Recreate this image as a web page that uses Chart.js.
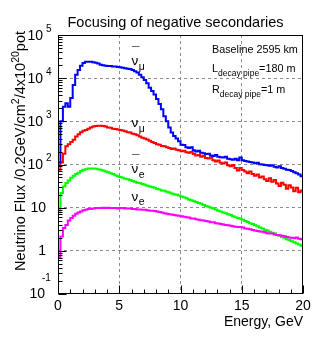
<!DOCTYPE html>
<html><head><meta charset="utf-8">
<script src="https://cdn.jsdelivr.net/npm/chart.js@4"></script>
<style>html,body{margin:0;padding:0;background:#fff}#wrap{width:314px;height:339px;position:relative}</style>
</head><body><div id="wrap"><canvas id="c" width="314" height="339"></canvas></div>
<script>
// ---- data (flux per 0.2 GeV bin, bins start at 0 GeV) ----
const BIN_WIDTH = 0.2;
const X_TICKS = [0, 5, 10, 15, 20];
const Y_DECADES = [0.1, 1, 10, 100, 1000, 10000, 100000];
const Y_TICK_LABELS = [["10","-1"],["1",""],["10",""],["10","2"],["10","3"],["10","4"],["10","5"]];
const TITLE = "Focusing of negative secondaries";
const X_TITLE = "Energy, GeV";
const SERIES_NAMES = ["anti-nu_mu", "nu_mu", "anti-nu_e", "nu_e"];

const antiNuMu = [112,1000,2190,2630,2190,3470,6920,12000,15500,19500,
 22400,24000,24000,24000,23400,22900,21900,20400,20000,19500,
 19100,19100,18600,18600,18200,17800,17400,17000,16600,16200,
 15500,14500,13500,12000,10500,9120,7590,6030,5010,4170,
 3310,2510,1910,1320,1000,724,550,457,398,347,
 288,282,251,240,251,214,200,209,186,182,
 174,178,162,158,166,151,148,145,151,135,
 132,129,135,126,145,126,120,117,115,112,
 107,110,102,100,97.7,95.5,93.3,95.5,89.1,85.1,
 91.2,83.2,79.4,75.9,74.1,70.8,66.1,63.1,58.9,53.7];
const nuMu = [75.9,112,178,263,295,331,372,447,501,562,
 603,631,676,724,759,776,794,794,776,759,
 724,708,676,661,646,631,617,589,562,550,
 513,501,479,447,417,398,380,355,331,316,
 295,288,269,263,251,240,229,234,219,214,
 204,209,191,186,195,174,162,166,151,158,
 141,138,145,126,117,123,110,105,112,95.5,
 91.2,97.7,83.2,72.4,83.2,74.1,69.2,63.1,69.2,60.3,
 55.0,58.9,50.1,52.5,45.7,41.7,47.9,39.8,43.7,36.3,
 31.6,38.0,33.9,27.5,33.1,29.5,24.0,28.8,22.9,25.1];
const antiNuE = [8.51,21.9,30.9,37.2,42.7,49.0,55.0,60.3,64.6,70.8,
 75.9,77.6,81.3,81.3,81.3,79.4,77.6,75.9,72.4,69.2,
 66.1,63.1,60.3,56.2,53.7,51.3,49.0,46.8,45.7,43.7,
 41.7,39.8,38.0,37.2,35.5,33.9,32.4,30.9,30.2,28.8,
 27.5,26.3,25.1,24.5,23.4,22.4,21.4,20.4,20.0,19.1,
 18.2,17.4,16.6,15.5,14.8,14.1,13.5,12.9,12.3,11.5,
 11.0,10.5,10.0,9.55,9.12,8.51,8.13,7.76,7.41,7.08,
 6.76,6.31,6.03,5.75,5.50,5.25,4.90,4.68,4.37,4.17,
 3.89,3.72,3.47,3.31,3.09,2.95,2.75,2.63,2.51,2.34,
 2.24,2.09,2.00,1.86,1.78,1.66,1.58,1.48,1.41,1.32];
const nuE = [0.708,2.14,3.39,3.98,5.01,5.75,6.46,7.24,7.76,8.13,
 8.71,8.91,9.33,9.33,9.55,9.77,9.77,9.77,10.0,9.77,
 10.0,9.77,9.77,9.77,9.55,9.77,9.77,9.55,9.55,9.55,
 9.33,9.33,9.12,9.12,8.91,8.91,8.71,8.51,8.51,8.32,
 8.13,7.94,7.76,7.41,7.24,7.08,6.92,6.76,6.61,6.46,
 6.31,6.17,6.03,5.89,5.62,5.62,5.37,5.25,5.13,5.01,
 4.90,4.79,4.57,4.57,4.37,4.27,4.17,4.07,3.98,3.89,
 3.80,3.72,3.63,3.55,3.55,3.47,3.31,3.24,3.16,3.02,
 2.95,2.88,2.82,2.75,2.69,2.57,2.51,2.51,2.40,2.34,
 2.29,2.24,2.19,2.09,2.04,2.00,1.95,2.04,1.91,1.86];

const X_MIN = 0, X_MAX = 20, Y_MIN = 0.1, Y_MAX = 100000;

// histogram outline in ROOT style (closed to the axis at both ends)
function histPoints(vals){
  const pts = [{x: X_MIN, y: Y_MIN}];
  vals.forEach((v,i)=>pts.push({x: i*BIN_WIDTH, y: v}));
  pts.push({x: vals.length*BIN_WIDTH, y: vals[vals.length-1]});
  pts.push({x: vals.length*BIN_WIDTH, y: Y_MIN});
  return pts;
}
function ds(vals, color, order){
  return {data: histPoints(vals), borderColor: color, borderWidth: 2, pointRadius: 0,
    fill: false, stepped: 'before', tension: 0, order: order, borderJoinStyle: 'miter'};
}

const FONT = '"Liberation Sans", Arial, Helvetica, sans-serif';
function f(px){ return px + 'px ' + FONT; }

const decor = {
  id: 'decor',
  afterDraw(chart){
    const ctx = chart.ctx, a = chart.chartArea, xs = chart.scales.x, ys = chart.scales.y;
    ctx.save();
    ctx.strokeStyle = '#000'; ctx.lineWidth = 1;
    const L = Math.round(a.left)+0.5, R = Math.round(a.right)-0.5, T = Math.round(a.top)+0.5, B = Math.round(a.bottom)-0.5;
    ctx.strokeRect(L, T, R-L, B-T);
    ctx.beginPath();
    // x ticks (inside)
    for (let e = X_MIN; e <= X_MAX; e++){
      const px = Math.round(xs.getPixelForValue(e)) + 0.5;
      const len = (e % 5 === 0) ? 8 : 4;
      ctx.moveTo(px, B); ctx.lineTo(px, B - len);
    }
    // y ticks (inside, log minors)
    for (let n = -1; n <= 4; n++){
      for (let m = 1; m <= 9; m++){
        const v = m * Math.pow(10, n);
        const py = Math.round(ys.getPixelForValue(v)) + 0.5;
        const len = (m === 1) ? 8 : 4;
        ctx.moveTo(L, py); ctx.lineTo(L + len, py);
      }
    }
    ctx.stroke();

    ctx.fillStyle = '#000';
    // x tick labels
    ctx.font = f(14); ctx.textAlign = 'center'; ctx.textBaseline = 'alphabetic';
    X_TICKS.forEach(t => ctx.fillText(String(t), xs.getPixelForValue(t), 309.5));
    // y tick labels
    Y_DECADES.forEach((v, i) => {
      const py = ys.getPixelForValue(v);
      const [base, exp] = Y_TICK_LABELS[i];
      ctx.textBaseline = 'middle';
      if (!exp){
        ctx.font = f(14); ctx.textAlign = 'right';
        ctx.fillText(base, 46, py);
      } else if (exp === '-1'){
        ctx.font = f(14); ctx.textAlign = 'right';
        ctx.fillText(base, 45, py);
        ctx.font = f(10); ctx.textAlign = 'left';
        ctx.fillText(exp, 42, py - 16);
      } else {
        ctx.font = f(14); ctx.textAlign = 'right';
        ctx.fillText(base, 43, py + 1);
        ctx.font = f(10); ctx.textAlign = 'left';
        ctx.fillText(exp, 46, py - 6);
      }
    });
    // title
    ctx.textBaseline = 'alphabetic';
    ctx.font = f(14.5); ctx.textAlign = 'center';
    ctx.fillText(TITLE, 175.5, 26.5);
    // x title
    ctx.font = f(14); ctx.textAlign = 'right';
    ctx.fillText(X_TITLE, 303, 326);
    // y title (rotated, right end at top)
    const pieces = [["Neutrino Flux /0.2GeV/cm",0],["2",1],["/4x10",0],["20",1],["pot",0]];
    const mainF = f(14.5), supF = f(10.5);
    let total = 0;
    pieces.forEach(([s,sup]) => { ctx.font = sup ? supF : mainF; total += ctx.measureText(s).width; });
    ctx.save();
    ctx.translate(25, 31 + total);
    ctx.rotate(-Math.PI/2);
    ctx.textAlign = 'left';
    let cx = 0;
    pieces.forEach(([s,sup]) => { ctx.font = sup ? supF : mainF; ctx.fillText(s, cx, sup ? -6.5 : 0); cx += ctx.measureText(s).width; });
    ctx.restore();

    // annotations
    ctx.textAlign = 'left';
    ctx.font = f(10.8); ctx.fillText("Baseline 2595 km", 212, 53);
    function subLine(main, sub, rest, x, y){
      ctx.font = f(10.8); ctx.fillText(main, x, y); x += ctx.measureText(main).width;
      ctx.font = f(8.5); ctx.fillText(sub, x, y + 4); x += ctx.measureText(sub).width;
      ctx.font = f(10.8); ctx.fillText(rest, x, y);
    }
    subLine("L", "decay pipe", "=180 m", 212, 71.7);
    subLine("R", "decay pipe", "=1 m", 212, 93);

    // series labels
    function nuLabel(bar, sub, x, y){
      ctx.font = f(13.5); ctx.textAlign = 'left';
      ctx.fillText("ν", x, y);
      const w = ctx.measureText("ν").width;
      if (bar){ ctx.fillText("¯", x + 0.5, y - 9); }
      ctx.font = f(10.5);
      ctx.fillText(sub, x + w + 0.5, y + 4.5);
    }
    nuLabel(true, "μ", 131.5, 65);
    nuLabel(false, "μ", 131.5, 127);
    nuLabel(true, "e", 131.5, 173);
    nuLabel(false, "e", 131.5, 200.5);
    ctx.restore();
  }
};

const gridColor = '#8c8c8c';
new Chart(document.getElementById('c'), {
  type: 'line',
  data: { datasets: [
    ds(antiNuMu, '#0000ff', 3),
    ds(nuMu, '#ff0000', 4),
    ds(antiNuE, '#00ff00', 2),
    ds(nuE, '#ff00ff', 1)
  ]},
  options: {
    responsive: false, animation: false, devicePixelRatio: 1,
    layout: { padding: { top: 35, right: 11, left: 0, bottom: 0 } },
    plugins: { legend: { display: false }, tooltip: { enabled: false }, title: { display: false } },
    scales: {
      x: { type: 'linear', min: X_MIN, max: X_MAX,
        ticks: { display: false, stepSize: 5 },
        afterBuildTicks: ax => { ax.ticks = X_TICKS.map(v => ({value: v})); },
        grid: { drawTicks: false, lineWidth: 1,
          color: c => (c.tick && (c.tick.value === X_MIN || c.tick.value === X_MAX)) ? 'rgba(0,0,0,0)' : gridColor },
        border: { display: false, dash: [3, 3] },
        afterFit: ax => { ax.height = 45; } },
      y: { type: 'logarithmic', min: Y_MIN, max: Y_MAX,
        ticks: { display: false },
        afterBuildTicks: ax => { ax.ticks = Y_DECADES.map(v => ({value: v})); },
        grid: { drawTicks: false, lineWidth: 1,
          color: c => (c.tick && (c.tick.value === Y_MIN || c.tick.value === Y_MAX)) ? 'rgba(0,0,0,0)' : gridColor },
        border: { display: false, dash: [3, 3] },
        afterFit: ax => { ax.width = 58; } }
    }
  },
  plugins: [decor]
});
</script>
</body></html>
